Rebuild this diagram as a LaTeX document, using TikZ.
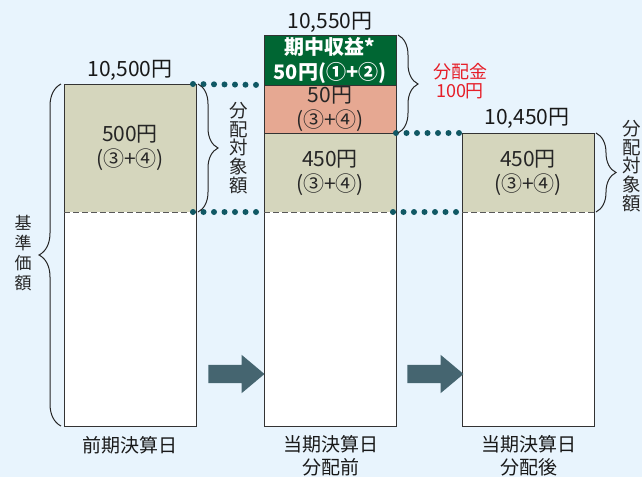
\documentclass[tikz,border=0pt]{standalone}
\usepackage{fontspec}
\setmainfont{Noto Sans CJK JP}
\usetikzlibrary{positioning, shapes.arrows, decorations.pathreplacing}
\definecolor{bgblue}{RGB}{232,244,253}
\definecolor{khaki}{RGB}{213,214,189}
\definecolor{salmon}{RGB}{230,168,146}
\definecolor{gaingreen}{RGB}{0,102,51}
\definecolor{dotteal}{RGB}{16,88,100}
\definecolor{arrowgray}{RGB}{69,101,112}
\definecolor{distred}{RGB}{230,30,40}
\tikzset{
x=1pt, y=-1pt, % one unit per pixel, y runs downwards
seg/.style={rectangle, minimum width=132pt, inner sep=0pt, outer sep=0pt, align=center, text=black!85, font=\fontsize{21}{25}\selectfont}, % one slice of a bar
lowerseg/.style={seg, fill=white}, % the part that is not paid out
khakiseg/.style={seg, fill=khaki}, % distributable amount
extraseg/.style={seg, fill=salmon},
gainseg/.style={seg, fill=gaingreen, text=white, font=\bfseries\fontsize{20}{25}\selectfont},
outline/.style={draw=black!80, line width=0.8pt},
sepline/.style={draw=black!65, line width=0.9pt, dash pattern=on 6pt off 3pt},
dotlink/.style={dotteal, line width=6pt, line cap=round, dash pattern=on 0pt off 10.5pt}, % teal dotted guide
brace/.style={draw=black!85, line width=1pt, decorate, decoration={brace, amplitude=20pt}},
vlabel/.style={align=center, inner sep=0pt, text=black!85, font=\fontsize{18.5}{18.8}\selectfont}, % letters stacked upright
valuelabel/.style={inner sep=0pt, text=black!90, font=\fontsize{21}{25}\selectfont},
daylabel/.style={inner sep=0pt, align=center, text=black!90, font=\fontsize{19}{23}\selectfont},
blockarrow/.style={single arrow, fill=arrowgray, minimum height=56pt, inner xsep=0pt, inner ysep=9pt, single arrow head extend=10pt, single arrow tip angle=80},
}

\begin{document}
\begin{tikzpicture}
      \useasboundingbox (0,0) rectangle (642,477);
      \fill[bgblue] (0,0) rectangle (642,477);

      % previous closing day
      \node[khakiseg, minimum height=128pt] (prevval) at (130,148) {500円\\(③+④)};
      \node[lowerseg, minimum height=214pt, below=0pt of prevval] (prevbase) {};
      % this closing day, before the payout
      \node[gainseg, minimum height=50pt] (gain) at (330,60) {期中収益*\\50円(①+②)};
      \node[extraseg, minimum height=48pt, below=0pt of gain] (extra) {50円\\(③+④)};
      \node[khakiseg, minimum height=79pt, below=0pt of extra] (curval) {450円\\(③+④)};
      \node[lowerseg, minimum height=214pt, below=0pt of curval] (curbase) {};
      % this closing day, after the payout
      \node[khakiseg, minimum height=79pt] (postval) at (528,172.5) {450円\\(③+④)};
      \node[lowerseg, minimum height=214pt, below=0pt of postval] (postbase) {};

      \draw[outline] (prevval.north west) rectangle (prevbase.south east);
      \draw[outline] (gain.north west) rectangle (curbase.south east);
      \draw[outline] (postval.north west) rectangle (postbase.south east);
      \draw[outline] (gain.south west) -- (gain.south east)
      (extra.south west) -- (extra.south east);
      \draw[sepline] (prevval.south west) -- (prevval.south east)
      (curval.south west) -- (curval.south east)
      (postval.south west) -- (postval.south east);

      \draw[dotlink] ([xshift=-3pt]prevval.north east) -- (extra.north west)
      ([xshift=-3pt]prevval.south east) -- (curval.south west)
      (curval.north east) -- (postval.north west)
      ([xshift=-3pt]curval.south east) -- (postval.south west);

      \node[valuelabel] (prevtotal) at (130,70) {10,500円};
      \node[valuelabel] (curtotal) at (330,22) {10,550円};
      \node[valuelabel] (posttotal) at (527,118) {10,450円};

      \draw[brace] ([xshift=2pt]prevval.north east) -- ([xshift=2pt]prevval.south east);
      \draw[brace] ([xshift=2pt]gain.north east) -- ([xshift=2pt]extra.south east);
      \draw[brace] ([xshift=2pt]postval.north east) -- ([xshift=2pt]postval.south east);
      \draw[brace, decoration={amplitude=22pt}] ([xshift=-3pt]prevbase.south west) -- ([xshift=-3pt]prevval.north west);

      \node[vlabel] (prevshare) at (239,148) {分\\配\\対\\象\\額};
      \node[vlabel] (postshare) at (632,166) {分\\配\\対\\象\\額};
      \node[vlabel, font=\fontsize{17}{20}\selectfont] (navlabel) at (23,253) {基\\準\\価\\額};
      \node[vlabel, text=distred, font=\fontsize{18}{19}\selectfont] (payout) at (460,81) {分配金\\100円};

      \node[blockarrow] (step1) at (231,374) {};
      \node[blockarrow] (step2) at (430,374) {};

      \node[daylabel] (prevday) at (130,445) {前期決算日};
      \node[daylabel] (curday) at (331,456) {当期決算日\\分配前};
      \node[daylabel] (postday) at (529,456) {当期決算日\\分配後};
    \end{tikzpicture}
\end{document}
